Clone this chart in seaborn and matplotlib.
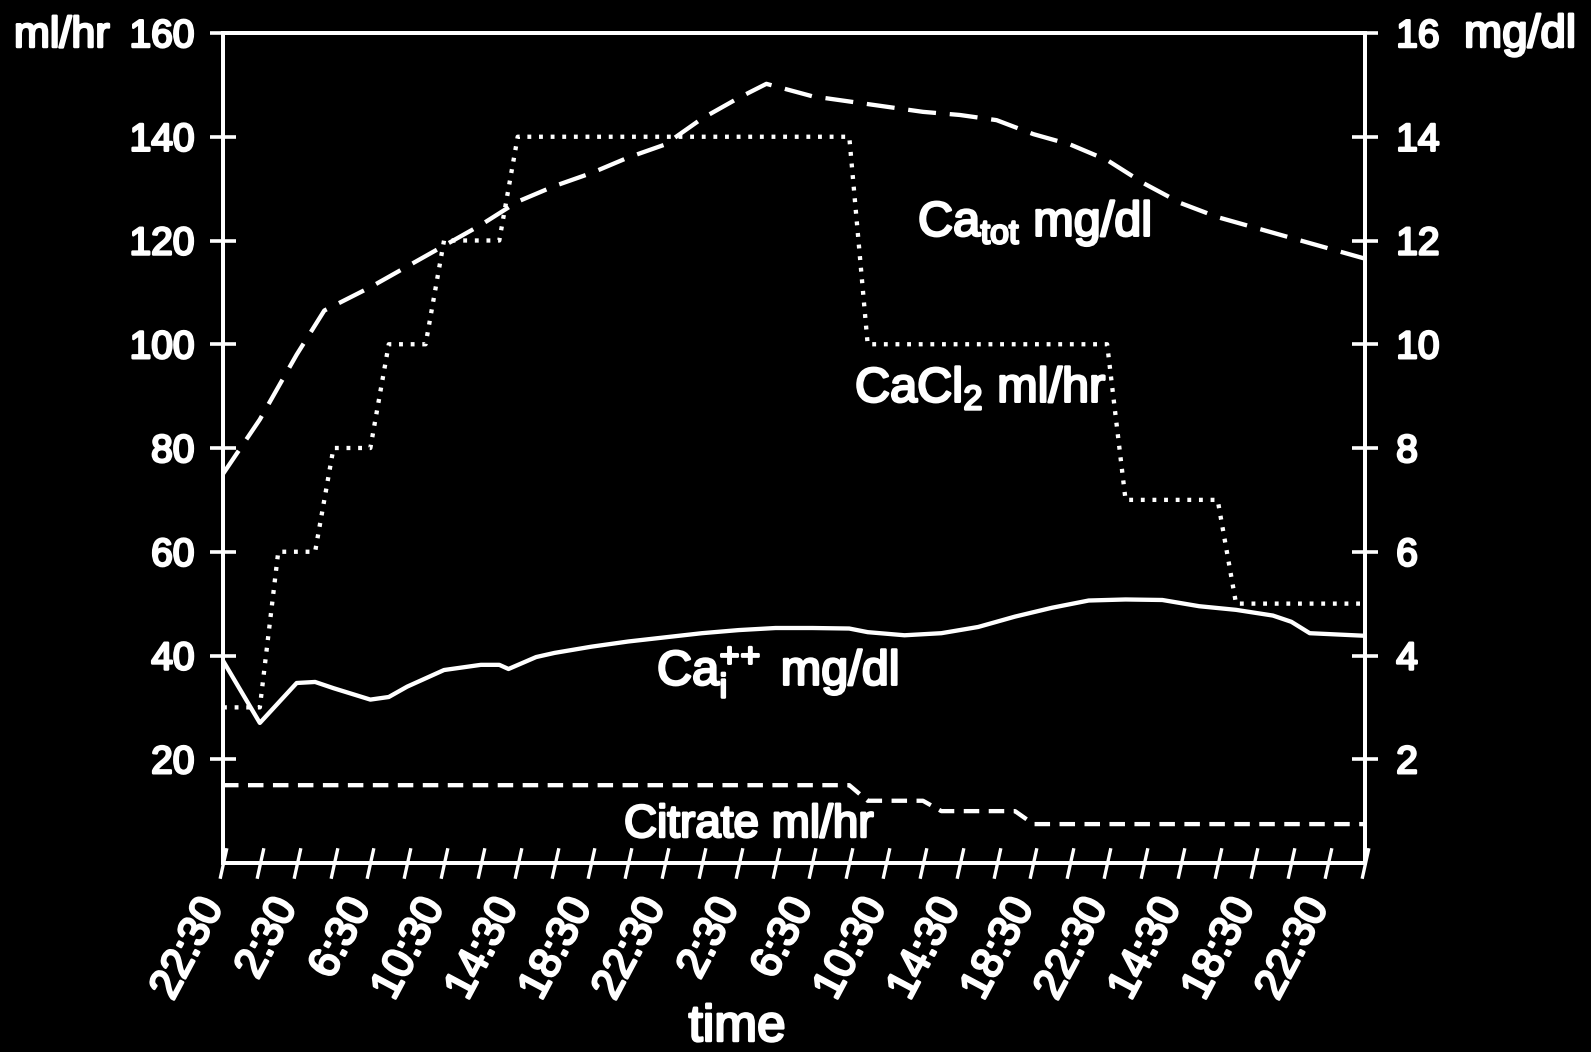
import numpy as np
import pandas as pd
import matplotlib
matplotlib.use("Agg")
import matplotlib.pyplot as plt
import matplotlib.patheffects as pe
from matplotlib.transforms import ScaledTranslation
import seaborn as sns
from matplotlib.path import Path

# ---------------- data ----------------
TIME_LABELS = ["22:30", "2:30", "6:30", "10:30", "14:30", "18:30", "22:30", "2:30",
               "6:30", "10:30", "14:30", "18:30", "22:30", "14:30", "18:30", "22:30"]
TICK_HOURS = list(range(0, 63, 2))
LABEL_HOURS = list(range(0, 61, 4))

CACL2_HOURS = [0, 2, 3, 5, 6, 8, 9, 11, 12, 15, 16, 34, 35, 48, 49, 54, 55, 62]
CACL2_RATE = [30, 30, 60, 60, 80, 80, 100, 100, 120, 120, 140, 140, 100, 100, 70, 70, 50, 50]

CITRATE_HOURS = [0, 34, 35, 38, 39, 43, 44, 62]
CITRATE_RATE = [15, 15, 12, 12, 10, 10, 7.5, 7.5]

CATOT_HOURS = [0, 2, 4, 5.5, 8, 10, 12, 14, 16, 18, 20, 22, 24, 26, 28, 29.5,
               32, 34, 36, 38, 40, 42, 44, 46, 48, 50, 52, 54, 56, 58, 60, 62]
CATOT_MGDL = [7.5, 8.55, 9.8, 10.65, 11.1, 11.5, 11.9, 12.3, 12.75, 13.05, 13.3, 13.6,
              13.85, 14.35, 14.75, 15.02, 14.78, 14.68, 14.58, 14.48, 14.42, 14.32, 14.05,
              13.85, 13.55, 13.1, 12.72, 12.45, 12.25, 12.05, 11.85, 11.65]

CAI_HOURS = [0, 2, 4, 5, 6, 8, 9, 10, 12, 14, 15, 15.5, 17, 18, 20, 22, 24, 26, 28, 30,
             32, 34, 35, 37, 39, 41, 43, 45, 47, 49, 51, 53, 55, 57, 58, 59, 62]
CAI_MGDL = [3.9, 2.7, 3.47, 3.49, 3.37, 3.15, 3.2, 3.4, 3.72, 3.82, 3.82, 3.74, 3.97, 4.05,
            4.17, 4.27, 4.35, 4.43, 4.49, 4.53, 4.53, 4.52, 4.45, 4.39, 4.43, 4.55, 4.75,
            4.92, 5.06, 5.08, 5.07, 4.95, 4.88, 4.77, 4.65, 4.43, 4.38]

# ---------------- style ----------------
sns.set_theme(style="ticks")
plt.rcParams["font.family"] = ["Liberation Sans", "DejaVu Sans"]
plt.rcParams["mathtext.fontset"] = "custom"
plt.rcParams["mathtext.rm"] = "Liberation Sans"
plt.rcParams["mathtext.it"] = "Liberation Sans:italic"
plt.rcParams["mathtext.bf"] = "Liberation Sans:bold"

W, H = 1591, 1052
fig = plt.figure(figsize=(W / 100, H / 100), dpi=100, facecolor="black")
L, R, T, B = 223, 1365, 33, 863
ax = fig.add_axes([L / W, 1 - B / H, (R - L) / W, (B - T) / H])
ax.set_facecolor("black")
ax2 = ax.twinx()
ax2.set_facecolor("none")

LW = 3.1
cacl2 = pd.DataFrame({"h": CACL2_HOURS, "v": CACL2_RATE})
citrate = pd.DataFrame({"h": CITRATE_HOURS, "v": CITRATE_RATE})
catot = pd.DataFrame({"h": CATOT_HOURS, "v": CATOT_MGDL})
cai = pd.DataFrame({"h": CAI_HOURS, "v": CAI_MGDL})

sns.lineplot(data=cacl2, x="h", y="v", ax=ax, color="white", lw=LW,
             linestyle=(0, (0.9, 1.8)), dash_capstyle="butt")
sns.lineplot(data=citrate, x="h", y="v", ax=ax, color="white", lw=LW,
             linestyle=(0, (3.6, 2.2)))
sns.lineplot(data=catot, x="h", y="v", ax=ax2, color="white", lw=LW,
             linestyle=(0, (6.5, 3.2)))
sns.lineplot(data=cai, x="h", y="v", ax=ax2, color="white", lw=LW,
             linestyle="-")

ax.set_xlim(0, 62)
ax.set_ylim(0, 160)
ax2.set_ylim(0, 16)
ax.set_xlabel("")
ax.set_ylabel("")
ax2.set_ylabel("")

for a in (ax, ax2):
    for s in a.spines.values():
        s.set_color("white")
        s.set_linewidth(2.8)

ax.set_yticks(list(range(20, 161, 20)))
ax2.set_yticks(list(range(2, 17, 2)))
ax.tick_params(axis="y", direction="inout", length=19, width=2.6, colors="white",
               labelsize=28, pad=11)
ax2.tick_params(axis="y", direction="inout", length=19, width=2.6, colors="white",
                labelsize=28, pad=13)

ax.set_xticks(TICK_HOURS)
lab = []
for hh in TICK_HOURS:
    lab.append(TIME_LABELS[LABEL_HOURS.index(hh)] if hh in LABEL_HOURS else "")
ax.set_xticklabels(lab)
ax.tick_params(axis="x", direction="inout", length=22, width=2.4, colors="white",
               labelsize=31, pad=10)
shift = ScaledTranslation(-0.27, 0, fig.dpi_scale_trans)
for t in ax.get_xticklabels():
    t.set_rotation(62)
    t.set_ha("right")
    t.set_va("top")
    t.set_rotation_mode("anchor")
    t.set_transform(t.get_transform() + shift)
ax2.tick_params(axis="x", length=0)

slant = Path([(-0.22, -1.0), (0.22, 1.0)], [Path.MOVETO, Path.LINETO])
for tk in ax.xaxis.get_major_ticks():
    tk.tick1line.set_marker(slant)
    tk.tick1line.set_markersize(22)
    tk.tick1line.set_markeredgewidth(2.4)

# ---------------- texts ----------------
def ftext(x, y, s, size, **kw):
    fig.text(x / W, 1 - y / H, s, color="white", fontsize=size, va="baseline", **kw)

ftext(14, 47, "ml/hr", 31)
ftext(1464, 47, "mg/dl", 33)
ftext(737, 1041, "time", 37, ha="center")
ftext(918, 236, r"Ca$_{\mathrm{tot}}$ mg/dl", 35)
ftext(855, 402, r"CaCl$_{\mathrm{2}}$ ml/hr", 35)
ftext(657, 685, r"Ca$_{\mathrm{i}}^{+\!+}$ mg/dl", 35)
ftext(624, 837, "Citrate ml/hr", 33)

stroke = [pe.withStroke(linewidth=1.8, foreground="white")]
for t in fig.findobj(matplotlib.text.Text):
    t.set_path_effects(stroke)

fig.savefig("out.png", dpi=100, facecolor="black")
